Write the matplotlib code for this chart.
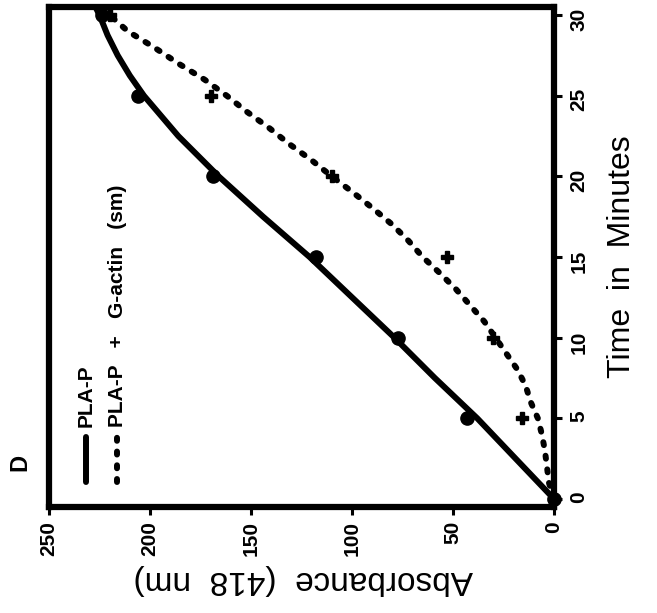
import numpy as np
import matplotlib
matplotlib.use("Agg")
import matplotlib.pyplot as plt

plt.rcParams['font.family'] = ['Liberation Sans', 'DejaVu Sans']

# measured points, time (min) vs absorbance
times = [0, 5, 10, 15, 20, 25, 30]
pla_p = [0, 43, 77, 118, 169, 206, 224]
pla_p_actin = [0, 16, 30, 53, 110, 170, 220]

# fitted curves
fit_t = [0, 2.5, 5, 7.5, 10, 12.5, 15, 17.5, 20, 22.5, 25, 26.25, 27.5,
         28.75, 30, 30.5]
fit_pla_p = [0, 19, 38, 59, 79, 100, 121, 144, 166, 186, 203, 210, 216,
             221, 225, 227]
fit_t2 = [0, 1, 2, 3, 4, 5, 6, 7, 8, 9, 10, 11, 12, 13, 14, 15, 16, 17, 18, 19,
          20, 21, 22, 23, 24, 25, 26, 27, 28, 29, 30]
fit_pla_p_actin = [0, 2.5, 3.5, 4.5, 6, 8, 11.5, 14, 18, 23.5, 29, 34.5, 41.5,
                   48.5, 56.5, 65, 72, 80, 89.5, 99.5, 110, 120, 131, 141, 152,
                   162, 173, 186, 198, 211, 220]

abs_ticks = [250, 200, 150, 100, 50, 0]
time_ticks = [0, 5, 10, 15, 20, 25, 30]

dashes = (0, (0.5, 1.8))

fig = plt.figure(figsize=(6.57, 6.13), dpi=100)
ax = fig.add_axes([49/657, 1 - 507/613, 505/657, 500/613])

# figure is drawn turned on its side: absorbance runs right-to-left, time upward
ax.plot(fit_pla_p, fit_t, color='k', lw=4.3, solid_capstyle='round')
ax.plot(fit_pla_p_actin, fit_t2, color='k', lw=4.3,
        linestyle=dashes, dash_capstyle='round')
ax.plot(pla_p, times, 'o', color='k', ms=9.5, clip_on=False)
ax.plot(pla_p_actin, times, 'P', color='k', ms=8, clip_on=False)

ax.set_xlim(250, 0)
ax.set_ylim(-0.5, 30.5)
ax.set_xticks(abs_ticks)
ax.set_yticks(time_ticks)
ax.yaxis.tick_right()
ax.tick_params(direction='out', length=6, width=2.2, labelsize=15)
ax.tick_params(axis='x', labelrotation=90, pad=4)
ax.tick_params(axis='y', labelrotation=90, pad=5)
for lab in ax.get_xticklabels() + ax.get_yticklabels():
    lab.set_fontweight('bold')
for sp in ax.spines.values():
    sp.set_linewidth(4.5)

ax.set_xlabel('Absorbance  (418  nm)', fontsize=24, rotation=180,
              ha='center', va='center', rotation_mode='anchor')
ax.xaxis.set_label_coords(0.503, -0.146)
ax.yaxis.set_label_position('right')
ax.set_ylabel('Time  in  Minutes', fontsize=23, rotation=90,
              ha='center', va='center', rotation_mode='anchor')
ax.yaxis.set_label_coords(1.135, 0.5)

# legend keys, laid out sideways
ax.plot([0.073, 0.073], [0.05, 0.14], transform=ax.transAxes, color='k',
        lw=4.3, solid_capstyle='round')
ax.plot([0.135, 0.135], [0.05, 0.14], transform=ax.transAxes, color='k',
        lw=4.3, linestyle=dashes, dash_capstyle='round')
ax.text(0.073, 0.16, 'PLA-P', transform=ax.transAxes, rotation=90,
        ha='center', va='bottom', fontsize=15, fontweight='bold')
ax.text(0.135, 0.16, 'PLA-P   +   G-actin   (sm)', transform=ax.transAxes,
        rotation=90, ha='center', va='bottom', fontsize=15, fontweight='bold')

fig.text(20/657, 1 - 462/613, 'D', rotation=90, ha='center', va='center',
         fontsize=17, fontweight='bold')

fig.savefig('out.png', dpi=100)
